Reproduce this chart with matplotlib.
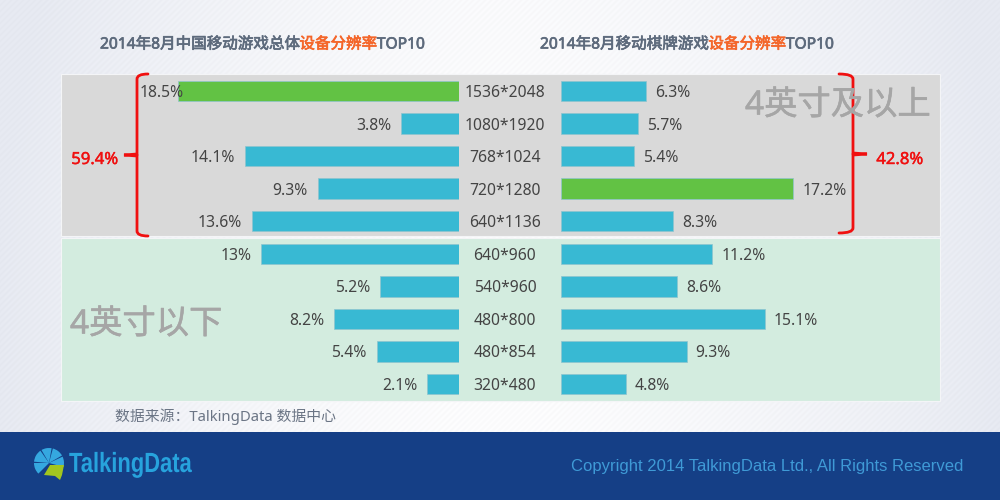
import numpy as np
import matplotlib
matplotlib.use('Agg')
import matplotlib.pyplot as plt
import matplotlib.patheffects as pe
from matplotlib.patches import Rectangle, Wedge, Polygon, PathPatch
from matplotlib.path import Path
from matplotlib.transforms import Affine2D

plt.rcParams['font.family'] = ['Noto Sans', 'Noto Sans CJK SC', 'DejaVu Sans']

resolutions = ['1536*2048', '1080*1920', '768*1024', '720*1280', '640*1136',
               '640*960', '540*960', '480*800', '480*854', '320*480']
total_share = [18.5, 3.8, 14.1, 9.3, 13.6, 13, 5.2, 8.2, 5.4, 2.1]
chess_share = [6.3, 5.7, 5.4, 17.2, 8.3, 11.2, 8.6, 15.1, 9.3, 4.8]
group_large = ['59.4%', '42.8%']

BLUE = '#38b9d3'
GREEN = '#62c244'
LABEL = '#444444'
TITLE = '#5d6a7c'
ORANGE = '#f4662a'
RED = '#f01010'


class Squeeze(pe.AbstractPathEffect):
    # narrows glyphs around x0 (display px), there is no condensed font here
    def __init__(self, x0, factor):
        super().__init__()
        self.x0 = x0
        self.factor = factor

    def draw_path(self, renderer, gc, tpath, affine, rgbFace=None):
        squeeze = Affine2D().translate(-self.x0, 0).scale(self.factor, 1).translate(self.x0, 0)
        renderer.draw_path(gc, tpath, affine + squeeze, rgbFace)


def bar_colors(values):
    top = max(values)
    return [GREEN if v == top else BLUE for v in values]


def mixed_text(ax, x, y, pieces, **kw):
    # draw pieces one after another, each starts where the last one ended
    fig = ax.figure
    r = fig.canvas.get_renderer()
    for s, c in pieces:
        t = ax.text(x, y, s, color=c, va='center', ha='left',
                    path_effects=[pe.withStroke(linewidth=0.5, foreground=c)], **kw)
        x = x + t.get_window_extent(r).width


def brace(ax, x0, xv, xn, y0, ym, y1):
    verts = [(x0, y0), (xv, y0), (xv, y0 + 5), (xv, ym - 1), (xn, ym), (xv, ym + 1),
             (xv, y1 - 5), (xv, y1), (x0, y1)]
    codes = [Path.MOVETO, Path.CURVE3, Path.CURVE3, Path.LINETO, Path.LINETO, Path.LINETO,
             Path.LINETO, Path.CURVE3, Path.CURVE3]
    ax.add_patch(PathPatch(Path(verts, codes), fill=False, ec=RED, lw=2.0, capstyle='round'))


fig = plt.figure(figsize=(10, 5), dpi=100)

# page background
bg = fig.add_axes([0, 0, 1, 1])
yy, xx = np.mgrid[0:500, 0:1000]
edge = np.clip(np.abs(xx - 500) / 500.0, 0, 1) ** 1.6 + (1 - np.clip(yy / 200.0, 0, 1)) * 0.12
stripes = np.sin((xx + yy) * 2 * np.pi / 6.0)
shade = np.clip(edge, 0, 1)[..., None]
img = (1 - shade) * np.array([252, 252, 253]) + shade * np.array([230, 233, 241])
img = img + stripes[..., None] * 2.0
bg.imshow(np.clip(img, 0, 255).astype(np.uint8), extent=(0, 1000, 500, 0), aspect='auto', interpolation='nearest')
bg.set_xlim(0, 1000)
bg.set_ylim(500, 0)
bg.axis('off')

bg.add_patch(Rectangle((61, 74), 879, 162, fc='#d9d9d9', ec='#f4f5f7', lw=0.8))
bg.add_patch(Rectangle((61, 238), 879, 163, fc='#d3ecdf', ec='#f4f5f7', lw=0.8))
bg.add_patch(Rectangle((0, 432), 1000, 68, fc='#153f86', ec='none'))

# bars, same row grid on both sides but each side has its own x scale
ax_l = fig.add_axes([60 / 1000, 100 / 500, 399 / 1000, 325 / 500])
ax_r = fig.add_axes([561 / 1000, 100 / 500, 379 / 1000, 325 / 500])
rows = np.arange(len(resolutions))
ax_l.barh(rows, total_share, height=0.63, color=bar_colors(total_share), edgecolor='#8fc4cf', linewidth=0.5)
ax_r.barh(rows, chess_share, height=0.63, color=bar_colors(chess_share), edgecolor='#8fc4cf', linewidth=0.5)
ax_l.set_xlim(399 / 15.2, 0)
ax_r.set_xlim(0, 379 / 13.5)
for ax in (ax_l, ax_r):
    ax.set_ylim(9.49, -0.49)
    ax.axis('off')

for i, v in enumerate(total_share):
    off = 6 if i == 0 else -10
    ax_l.annotate('%g%%' % v, (v, i), xytext=(off, -2), textcoords='offset pixels', ha='right', va='center',
                  fontsize=11.3, color=LABEL)
for i, v in enumerate(chess_share):
    ax_r.annotate('%g%%' % v, (v, i), xytext=(9, -2), textcoords='offset pixels', ha='left', va='center',
                  fontsize=11.3, color=LABEL)
    ax_r.annotate(resolutions[i], (0, i), xytext=(-56, -2), textcoords='offset pixels', ha='center', va='center',
                  fontsize=11.3, color=LABEL)

# overlay in pixel coordinates
top = fig.add_axes([0, 0, 1, 1])
top.set_xlim(0, 1000)
top.set_ylim(500, 0)
top.axis('off')
top.patch.set_alpha(0)

fig.canvas.draw()
mixed_text(top, 100, 44.5, [('2014年8月中国移动游戏总体', TITLE), ('设备分辨率', ORANGE), ('TOP10', TITLE)],
           fontsize=11.2)
mixed_text(top, 540, 44.5, [('2014年8月移动棋牌游戏', TITLE), ('设备分辨率', ORANGE), ('TOP10', TITLE)],
           fontsize=11.2)

thick = [pe.withStroke(linewidth=0.4, foreground='#a6a6a6')]
top.text(745, 106, '4英寸及以上', fontsize=24, color='#a6a6a6', va='center', ha='left', path_effects=thick)
top.text(70, 325, '4英寸以下', fontsize=24, color='#a6a6a6', va='center', ha='left', path_effects=thick)

brace(top, 148, 137, 124, 74, 155, 236)
brace(top, 839, 853, 867, 74, 154, 233)
red_thick = [pe.withStroke(linewidth=0.3, foreground=RED)]
top.text(95, 160, group_large[0], fontsize=12, color=RED, ha='center', va='center', path_effects=red_thick)
top.text(900, 160, group_large[1], fontsize=12, color=RED, ha='center', va='center', path_effects=red_thick)

top.text(115, 416.5, '数据来源：TalkingData 数据中心', fontsize=10.7, color='#6b7585', ha='left', va='center')

# logo
lc = (49, 463)
for a0, a1 in [(-175, -125), (-120, -80), (-75, -30), (-25, 15), (135, 180)]:
    top.add_patch(Wedge(lc, 15, a0, a1, fc='#35a8e0', ec='none'))
top.add_patch(Polygon([(50, 465), (64, 465), (62, 475), (60, 480), (55, 476), (44, 475)], fc='#a2c61e', ec='none'))
top.text(69, 465, 'TalkingData', fontsize=20, fontweight='bold', color='#27a3dd', va='center', ha='left',
         family=['Liberation Sans', 'DejaVu Sans'], path_effects=[Squeeze(69, 0.79)])

top.text(963, 466, 'Copyright 2014 TalkingData Ltd., All Rights Reserved', fontsize=12, color='#3f9ad6',
         ha='right', va='center', family=['Liberation Sans', 'DejaVu Sans'])

fig.savefig('out.png', dpi=100)
